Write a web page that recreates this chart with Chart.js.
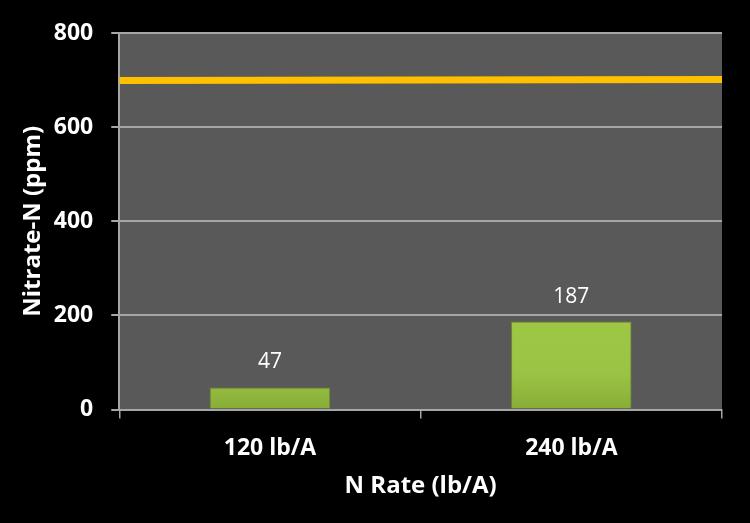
<!DOCTYPE html>
<html lang="en">
<head>
  <meta charset="UTF-8">
  <title>Nitrate-N by N Rate</title>
  <script src="https://cdn.jsdelivr.net/npm/chart.js"></script>
  <style>
    html, body { margin: 0; padding: 0; background: #000; }
    #wrap { width: 750px; height: 523px; }
  </style>
</head>
<body>
  <div id="wrap"><canvas id="nitrateChart"></canvas></div>

  <script>
    // data
    const rates = ['120 lb/A', '240 lb/A'];
    const nitrate = [47, 187];
    const lineEnds = [0, 1];        // left and right edge of the plot
    const lineLevel = [699, 701];   // orange reference line
    const yMin = 0, yMax = 800, yStep = 200;

    const FONT = '"Open Sans", "Liberation Sans", sans-serif';

    const plotBg = {
      id: 'plotBg',
      beforeDraw(chart) {
        const { ctx, chartArea: a } = chart;
        ctx.save();
        ctx.fillStyle = '#000';
        ctx.fillRect(0, 0, chart.width, chart.height);
        ctx.fillStyle = '#595959';
        ctx.fillRect(a.left, a.top, a.right - a.left, a.bottom - a.top);
        ctx.restore();
      }
    };

    const barLabels = {
      id: 'barLabels',
      afterDatasetsDraw(chart) {
        const { ctx } = chart;
        const meta = chart.getDatasetMeta(0);
        ctx.save();
        ctx.fillStyle = '#fff';
        ctx.font = '21px ' + FONT;
        ctx.textAlign = 'center';
        ctx.textBaseline = 'middle';
        meta.data.forEach((bar, i) => {
          ctx.fillText(nitrate[i], bar.x, bar.y - 25);
        });
        ctx.restore();
      }
    };

    function greenFill(context) {
      const chart = context.chart;
      const { ctx, chartArea } = chart;
      if (!chartArea) return '#9dc444';
      const el = context.element;
      const top = el && el.y ? el.y : chartArea.top;
      const bottom = chartArea.bottom;
      const g = ctx.createLinearGradient(0, top, 0, bottom);
      g.addColorStop(0, '#c6e574');
      g.addColorStop(0.12, '#aad34e');
      g.addColorStop(0.9, '#9cc444');
      g.addColorStop(1, '#88ad37');
      return g;
    }

    new Chart(document.getElementById('nitrateChart'), {
      data: {
        labels: rates,
        datasets: [{
          type: 'bar',
          data: nitrate,
          backgroundColor: greenFill,
          borderColor: '#6e8c2b',
          borderWidth: 1,
          barPercentage: 0.4,
          categoryPercentage: 1,
          grouped: false,
          xAxisID: 'x',
          order: 2
        }, {
          type: 'line',
          data: lineEnds.map((x, i) => ({ x: x, y: lineLevel[i] })),
          borderColor: '#ffc000',
          borderWidth: 7,
          pointRadius: 0,
          xAxisID: 'x2',
          order: 1
        }]
      },
      options: {
        responsive: true,
        maintainAspectRatio: false,
        animation: false,
        layout: { padding: { top: 33, right: 28, left: 15, bottom: 18 } },
        plugins: { legend: { display: false }, tooltip: { enabled: false } },
        scales: {
          x: {
            type: 'category',
            offset: true,
            afterFit(scale) { scale.height -= 13; },
            grid: { display: true, drawOnChartArea: false, offset: true, color: '#a6a6a6', tickLength: 9, lineWidth: 1.5 },
            border: { color: '#a6a6a6', width: 2 },
            ticks: { color: '#fff', font: { family: FONT, size: 23, weight: 'bold' }, padding: 16 },
            title: { display: true, text: 'N Rate (lb/A)', color: '#fff', font: { family: FONT, size: 24, weight: 'bold' }, padding: { top: 7 } }
          },
          x2: {
            type: 'linear',
            display: false,
            min: 0,
            max: 1
          },
          y: {
            min: yMin,
            max: yMax,
            afterFit(scale) { scale.width -= 15; },
            ticks: { stepSize: yStep, color: '#fff', font: { family: FONT, size: 23, weight: 'bold' }, padding: 18 },
            grid: { color: '#a6a6a6', lineWidth: 2, tickLength: 8 },
            border: { color: '#a6a6a6', width: 2 },
            title: { display: true, text: 'Nitrate-N (ppm)', color: '#fff', font: { family: FONT, size: 24, weight: 'bold' }, padding: { bottom: 3 } }
          }
        }
      },
      plugins: [plotBg, barLabels]
    });
  </script>
</body>
</html>
